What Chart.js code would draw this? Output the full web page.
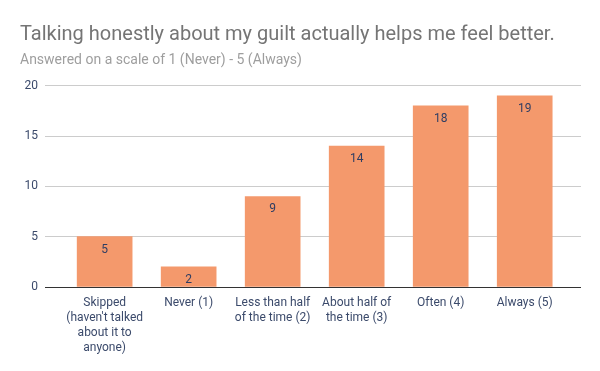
<!DOCTYPE html>
<html>
<head>
<meta charset="utf-8">
<script src="https://cdn.jsdelivr.net/npm/chart.js@4"></script>
<style>
  html, body { margin: 0; padding: 0; background: #fff; }
  #wrap { width: 600px; height: 371px; }
</style>
</head>
<body>
<div id="wrap"><canvas id="guiltChart" width="600" height="371"></canvas></div>
<script>
const categories = [
    ['Skipped', "(haven't talked", 'about it to', 'anyone)'],
    ['Never (1)'],
    ['Less than half', 'of the time (2)'],
    ['About half of', 'the time (3)'],
    ['Often (4)'],
    ['Always (5)']
];
const counts = [5, 2, 9, 14, 18, 19];
const yTicks = [0, 5, 10, 15, 20];

const labelColor = '#3b4a6b';

// value labels just inside the top of each bar
const barLabels = {
    id: 'barLabels',
    afterDatasetsDraw(chart) {
        const c = chart.ctx;
        const meta = chart.getDatasetMeta(0);
        c.save();
        c.font = '12px Roboto';
        c.fillStyle = '#2e3d63';
        c.textAlign = 'center';
        c.textBaseline = 'middle';
        meta.data.forEach((bar, i) => {
            c.fillText(counts[i], bar.x, bar.y + 13);
        });
        c.restore();
    }
};

const ctx = document.getElementById('guiltChart').getContext('2d');
new Chart(ctx, {
    type: 'bar',
    data: {
        datasets: [{
            data: counts.map((v, i) => ({ x: i, y: v })),
            backgroundColor: '#f4996c',
            borderWidth: 0,
            barThickness: 55
        }]
    },
    options: {
        responsive: false,
        animation: false,
        layout: { padding: { left: 20, right: 19, top: 23, bottom: 16 } },
        plugins: {
            legend: { display: false },
            tooltip: { enabled: false },
            title: {
                display: true,
                align: 'start',
                text: 'Talking honestly about my guilt actually helps me feel better.',
                color: '#757575',
                font: { family: 'Roboto', size: 20, weight: 'normal' },
                padding: { top: 0, bottom: 5 }
            },
            subtitle: {
                display: true,
                align: 'start',
                text: 'Answered on a scale of 1 (Never) - 5 (Always)',
                color: '#9e9e9e',
                font: { family: 'Roboto', size: 14, weight: 'normal' },
                padding: { top: 0, bottom: 17 }
            }
        },
        scales: {
            x: {
                type: 'linear',
                offset: false,
                min: -0.71,
                max: 5.67,
                afterBuildTicks: axis => {
                    axis.ticks = categories.map((c, i) => ({ value: i }));
                },
                ticks: {
                    color: labelColor,
                    font: { family: 'Roboto', size: 12, lineHeight: '15px' },
                    maxRotation: 0,
                    autoSkip: false,
                    padding: 0,
                    callback: v => categories[v]
                },
                grid: { display: false },
                border: { display: false }
            },
            y: {
                min: 0,
                max: 20,
                afterBuildTicks: axis => {
                    axis.ticks = yTicks.map(v => ({ value: v }));
                },
                afterFit: axis => { axis.width = 25; },
                ticks: {
                    color: labelColor,
                    font: { family: 'Roboto', size: 12 },
                    padding: 7
                },
                grid: {
                    drawTicks: false,
                    color: c => c.tick.value === 0 ? '#333333' : '#cccccc'
                },
                border: { display: false }
            }
        }
    },
    plugins: [barLabels]
});
</script>
</body>
</html>
